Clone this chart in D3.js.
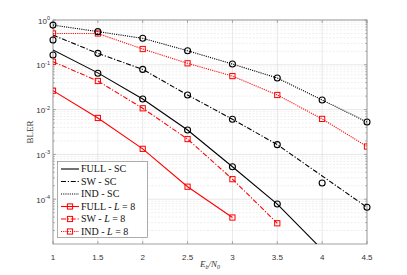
<!DOCTYPE html>
<html><head><meta charset="utf-8">
<script src="https://cdn.jsdelivr.net/npm/d3@7"></script>
<style>body{margin:0;background:#fff}svg{display:block}</style>
</head><body>
<svg id="c" width="407" height="275"></svg>
<script>
const snr = [1, 1.5, 2, 2.5, 3, 3.5, 4, 4.5];
const xTicks = [1, 1.5, 2, 2.5, 3, 3.5, 4, 4.5];
const yTickExps = [0, -1, -2, -3, -4];
// black lines (theory) and circle markers (simulation)
const fullSCLine = [0.214, 0.066, 0.0173, 0.0035, 5.3e-4, 7.8e-5, 7.5e-6];
const swSCLine = [0.46, 0.18, 0.079, 0.0212, 0.0061, 0.00165, 3.3e-4, 6.6e-5];
const indSCLine = [0.77, 0.55, 0.39, 0.206, 0.104, 0.0507, 0.0164, 0.00528];
const fullSCPts = [0.165, 0.065, 0.0173, 0.0035, 5.3e-4, 7.8e-5];
const swSCPts = [0.358, 0.18, 0.079, 0.0212, 0.0061, 0.00165, 2.3e-4, 6.6e-5];
const indSCPts = [0.77, 0.55, 0.39, 0.206, 0.104, 0.0507, 0.0164, 0.00528];
// red list decoding L = 8
const fullL8 = [0.0264, 0.0065, 0.00133, 1.9e-4, 3.9e-5];
const swL8 = [0.117, 0.0435, 0.0107, 0.0022, 2.8e-4, 2.9e-5];
const indL8 = [0.50, 0.50, 0.225, 0.108, 0.056, 0.0212, 0.0062, 0.0015];
const legendLabels = [
  ["FULL - SC"], ["SW - SC"], ["IND - SC"],
  ["FULL - ", "L", " = 8"], ["SW - ", "L", " = 8"], ["IND - ", "L", " = 8"]
];

const svg = d3.select("#c");
const L = 53, R = 367, T = 20, B = 244;
const x = d3.scaleLinear().domain([1, 4.5]).range([L, R]);
const y = d3.scaleLog().domain([1e-5, 1]).range([B, T]);
const axisCol = "#8a8a8a", txtCol = "#333";

svg.append("defs").append("clipPath").attr("id", "pc")
  .append("rect").attr("x", L).attr("y", T).attr("width", R - L).attr("height", B - T);

// minor grid
const minorVals = [];
for (let e = -5; e < 0; e++) for (let m = 2; m <= 9; m++) minorVals.push(m * Math.pow(10, e));
const g = svg.append("g");
g.selectAll(".mg").data(minorVals).join("line")
  .attr("x1", L).attr("x2", R).attr("y1", d => y(d)).attr("y2", d => y(d))
  .attr("stroke", "#e4e4e4").attr("stroke-width", 0.6).attr("stroke-dasharray", "2,1.5");
// major grid
g.selectAll(".yg").data(yTickExps).join("line")
  .attr("x1", L).attr("x2", R).attr("y1", d => y(Math.pow(10, d))).attr("y2", d => y(Math.pow(10, d)))
  .attr("stroke", "#dedede").attr("stroke-width", 0.7);
g.selectAll(".xg").data(xTicks).join("line")
  .attr("y1", T).attr("y2", B).attr("x1", d => x(d)).attr("x2", d => x(d))
  .attr("stroke", "#dedede").attr("stroke-width", 0.7);

// axes box & ticks
const ax = svg.append("g");
ax.append("rect").attr("x", L).attr("y", T).attr("width", R - L).attr("height", B - T)
  .attr("fill", "none").attr("stroke", axisCol).attr("stroke-width", 0.8);
xTicks.forEach(v => {
  ax.append("line").attr("x1", x(v)).attr("x2", x(v)).attr("y1", B).attr("y2", B - 3).attr("stroke", axisCol).attr("stroke-width", 0.7);
  ax.append("line").attr("x1", x(v)).attr("x2", x(v)).attr("y1", T).attr("y2", T + 3).attr("stroke", axisCol).attr("stroke-width", 0.7);
});
yTickExps.forEach(e => {
  const yy = y(Math.pow(10, e));
  ax.append("line").attr("x1", L).attr("x2", L + 3).attr("y1", yy).attr("y2", yy).attr("stroke", axisCol).attr("stroke-width", 0.7);
  ax.append("line").attr("x1", R).attr("x2", R - 3).attr("y1", yy).attr("y2", yy).attr("stroke", axisCol).attr("stroke-width", 0.7);
});
minorVals.forEach(v => {
  const yy = y(v);
  ax.append("line").attr("x1", L).attr("x2", L + 1.8).attr("y1", yy).attr("y2", yy).attr("stroke", axisCol).attr("stroke-width", 0.6);
  ax.append("line").attr("x1", R).attr("x2", R - 1.8).attr("y1", yy).attr("y2", yy).attr("stroke", axisCol).attr("stroke-width", 0.6);
});

// tick labels
const fSans = "Liberation Sans, Arial, sans-serif";
xTicks.forEach(v => {
  svg.append("text").attr("x", x(v)).attr("y", 260).attr("text-anchor", "middle")
    .attr("font-family", fSans).attr("font-size", 8).attr("fill", txtCol).text(v);
});
yTickExps.forEach(e => {
  const t = svg.append("text").attr("x", 50).attr("y", y(Math.pow(10, e)) + 3.5).attr("text-anchor", "end")
    .attr("font-family", fSans).attr("font-size", 8).attr("fill", txtCol);
  t.append("tspan").text("10");
  t.append("tspan").attr("dy", -3.5).attr("font-size", 5.5).text(String(e).replace("-", "-"));
});

// axis labels
const fSerif = "Liberation Serif, Times New Roman, serif";
const xl = svg.append("text").attr("x", x(2.75)).attr("y", 267).attr("text-anchor", "middle")
  .attr("font-family", fSerif).attr("font-size", 9).attr("fill", txtCol).attr("font-style", "italic");
xl.append("tspan").text("E");
xl.append("tspan").attr("dy", 1.8).attr("font-size", 6).text("b");
xl.append("tspan").attr("dy", -1.8).text("/N");
xl.append("tspan").attr("dy", 1.8).attr("font-size", 6).text("0");
svg.append("text").attr("transform", `translate(33,${(T + B) / 2}) rotate(-90)`).attr("text-anchor", "middle")
  .attr("font-family", fSerif).attr("font-size", 9).attr("fill", txtCol).text("BLER");

// series
const dashDot = "5,1.8,1.2,1.8", dotted = "1.1,1.1";
const series = [
  {v: fullSCLine, c: "#000", d: null},
  {v: swSCLine, c: "#000", d: dashDot},
  {v: indSCLine, c: "#000", d: dotted},
  {v: fullL8, c: "#ff0000", d: null, sq: true},
  {v: swL8, c: "#ff0000", d: dashDot, sq: true},
  {v: indL8, c: "#ff0000", d: dotted, sq: true},
];
const plot = svg.append("g").attr("clip-path", "url(#pc)");
const line = d3.line().x(d => x(d[0])).y(d => y(d[1]));
series.forEach(s => {
  const pts = s.v.map((v, i) => [snr[i], v]);
  plot.append("path").attr("d", line(pts)).attr("fill", "none").attr("stroke", s.c)
    .attr("stroke-width", 1.1).attr("stroke-dasharray", s.d);
  if (s.sq) {
    plot.selectAll(null).data(pts).join("rect")
      .attr("x", d => x(d[0]) - 2.6).attr("y", d => y(d[1]) - 2.6).attr("width", 5.2).attr("height", 5.2)
      .attr("fill", "none").attr("stroke", s.c).attr("stroke-width", 1);
  }
});
[fullSCPts, swSCPts, indSCPts].forEach(arr => {
  const pts = arr.map((v, i) => [snr[i], v]);
  svg.selectAll(null).data(pts).join("circle")
    .attr("cx", d => x(d[0])).attr("cy", d => y(d[1])).attr("r", 3)
    .attr("fill", "none").attr("stroke", "#000").attr("stroke-width", 1.1);
});

// legend
const lg = svg.append("g");
lg.append("rect").attr("x", 57.5).attr("y", 161.5).attr("width", 90).attr("height", 76)
  .attr("fill", "#fff").attr("stroke", axisCol).attr("stroke-width", 0.7);
const ly = [169, 181.5, 194, 206.5, 219, 231.5];
series.forEach((s, i) => {
  lg.append("line").attr("x1", 61).attr("x2", 79).attr("y1", ly[i]).attr("y2", ly[i])
    .attr("stroke", s.c).attr("stroke-width", 1.1).attr("stroke-dasharray", s.d);
  if (s.sq) lg.append("rect").attr("x", 70 - 2.6).attr("y", ly[i] - 2.6).attr("width", 5.2).attr("height", 5.2)
    .attr("fill", "none").attr("stroke", s.c).attr("stroke-width", 1);
  const t = lg.append("text").attr("x", 81).attr("y", ly[i] + 3.3).attr("font-family", fSerif)
    .attr("font-size", 10).attr("fill", "#111");
  legendLabels[i].forEach((p, k) => {
    const ts = t.append("tspan").text(p);
    if (k === 1) ts.attr("font-style", "italic");
  });
});
</script>
</body></html>
